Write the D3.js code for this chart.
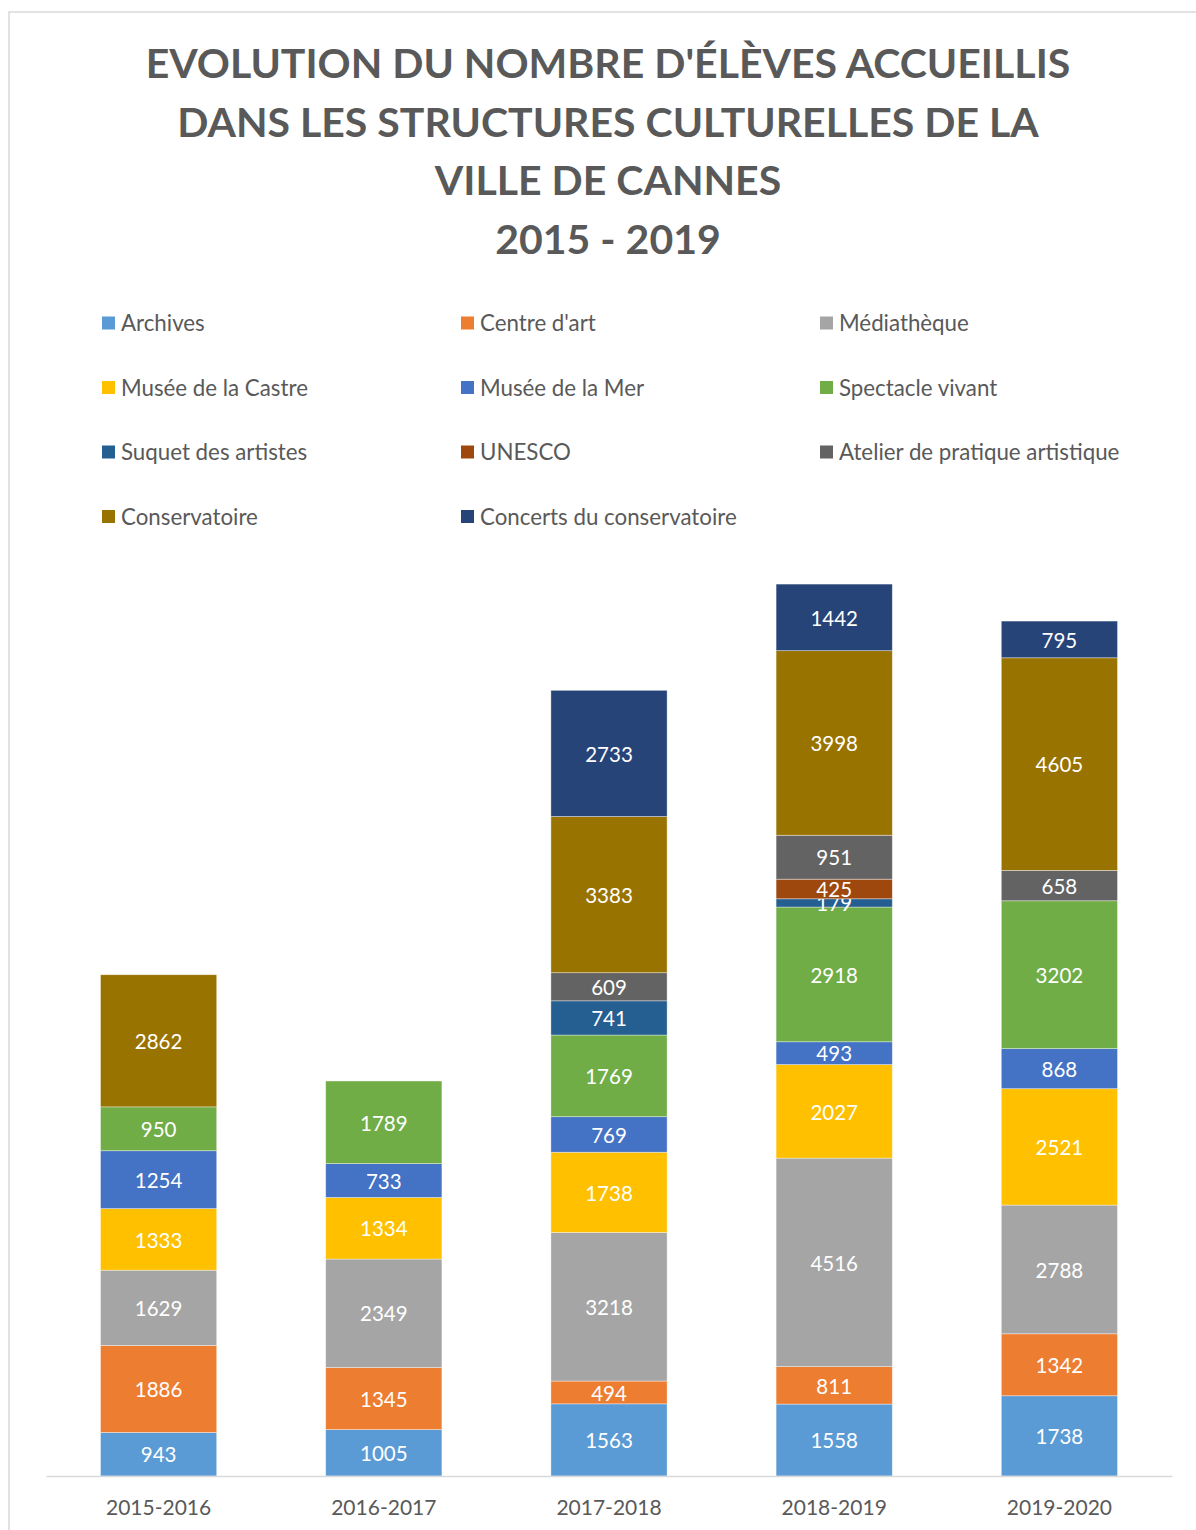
<!DOCTYPE html>
<html>
<head>
<meta charset="utf-8">
<script src="https://cdn.jsdelivr.net/npm/d3@7"></script>
<style>
  body { margin: 0; background: #fff; }
  svg { display: block; font-family: Lato, "Open Sans", sans-serif; }
</style>
</head>
<body>
<div id="chart"></div>
<script>
// ===== DATA =====
const years = ["2015-2016", "2016-2017", "2017-2018", "2018-2019", "2019-2020"];

const archives      = [943, 1005, 1563, 1558, 1738];
const centreArt     = [1886, 1345, 494, 811, 1342];
const mediatheque   = [1629, 2349, 3218, 4516, 2788];
const museeCastre   = [1333, 1334, 1738, 2027, 2521];
const museeMer      = [1254, 733, 769, 493, 868];
const spectacle     = [950, 1789, 1769, 2918, 3202];
const suquet        = [0, 0, 741, 179, 0];
const unesco        = [0, 0, 0, 425, 0];
const atelier       = [0, 0, 609, 951, 658];
const conservatoire = [2862, 0, 3383, 3998, 4605];
const concerts      = [0, 0, 2733, 1442, 795];

const seriesNames = ["Archives", "Centre d'art", "Médiathèque", "Musée de la Castre",
    "Musée de la Mer", "Spectacle vivant", "Suquet des artistes", "UNESCO",
    "Atelier de pratique artistique", "Conservatoire", "Concerts du conservatoire"];
const seriesValues = [archives, centreArt, mediatheque, museeCastre, museeMer, spectacle,
    suquet, unesco, atelier, conservatoire, concerts];
const seriesColors = ["#5b9bd5", "#ed7d31", "#a5a5a5", "#ffc000", "#4472c4", "#70ad47",
    "#255e91", "#9e480e", "#636363", "#997300", "#264478"];

const titleLines = ["EVOLUTION DU NOMBRE D'ÉLÈVES ACCUEILLIS",
    "DANS LES STRUCTURES CULTURELLES DE LA", "VILLE DE CANNES", "2015 - 2019"];

// ===== CHART =====
const width = 1196, height = 1530;
const textGrey = "#595959";

const svg = d3.select('#chart').append('svg')
    .attr('width', width)
    .attr('height', height);

// chart frame
svg.append('rect')
    .attr('x', 9).attr('y', 12)
    .attr('width', 1220).attr('height', 1560)
    .attr('fill', '#fff')
    .attr('stroke', '#d9d9d9')
    .attr('stroke-width', 1.5);

// title
svg.append('g')
    .selectAll('text')
    .data(titleLines)
    .enter().append('text')
    .attr('x', 608)
    .attr('y', (d, i) => 78 + i * 58.7)
    .attr('text-anchor', 'middle')
    .attr('font-size', '41px')
    .attr('font-weight', 'bold')
    .attr('fill', textGrey)
    .text(d => d);

// legend
const legend = svg.append('g')
    .selectAll('g')
    .data(seriesNames)
    .enter().append('g')
    .attr('transform', (d, i) => `translate(${102 + (i % 3) * 359},${323 + Math.floor(i / 3) * 64.5})`);

legend.append('rect')
    .attr('x', 0).attr('y', -6.5)
    .attr('width', 13).attr('height', 13)
    .attr('fill', (d, i) => seriesColors[i]);

legend.append('text')
    .attr('x', 19)
    .attr('dy', '0.36em')
    .attr('font-size', '22.3px')
    .attr('fill', textGrey)
    .text(d => d);

// scales
const x = d3.scaleBand()
    .domain(years)
    .range([46, 1172])
    .paddingInner(0.484)
    .paddingOuter(0.242);

const y = d3.scaleLinear()
    .domain([0, 20000])
    .range([1476, 552.6]);

// stack
const rows = years.map((yr, j) => {
    const r = { year: yr };
    seriesNames.forEach((s, i) => { r[s] = seriesValues[i][j]; });
    return r;
});
const stacked = d3.stack().keys(seriesNames)(rows);

const layer = svg.append('g')
    .selectAll('g')
    .data(stacked)
    .enter().append('g')
    .attr('fill', (d, i) => seriesColors[i]);

layer.selectAll('rect')
    .data(d => d.filter(p => p[1] - p[0] > 0))
    .enter().append('rect')
    .attr('x', d => x(d.data.year))
    .attr('y', d => y(d[1]))
    .attr('width', x.bandwidth())
    .attr('height', d => y(d[0]) - y(d[1]))
    .attr('stroke', '#ffffff')
    .attr('stroke-opacity', 0.5)
    .attr('stroke-width', 0.75);

// value labels
layer.selectAll('text')
    .data(d => d.filter(p => p[1] - p[0] > 0))
    .enter().append('text')
    .attr('x', d => x(d.data.year) + x.bandwidth() / 2)
    .attr('y', d => (y(d[0]) + y(d[1])) / 2)
    .attr('dy', '0.4em')
    .attr('text-anchor', 'middle')
    .attr('font-size', '20.5px')
    .attr('fill', '#ffffff')
    .text(d => d[1] - d[0]);

// x axis
const xAxis = svg.append('g')
    .attr('transform', `translate(0,${y(0)})`)
    .call(d3.axisBottom(x).tickSize(0).tickPadding(24));

xAxis.select('.domain')
    .attr('stroke', '#d9d9d9')
    .attr('stroke-width', 1.5);

xAxis.selectAll('text')
    .attr('font-family', 'Lato, "Open Sans", sans-serif')
    .attr('font-size', '21px')
    .attr('fill', textGrey);
</script>
</body>
</html>
